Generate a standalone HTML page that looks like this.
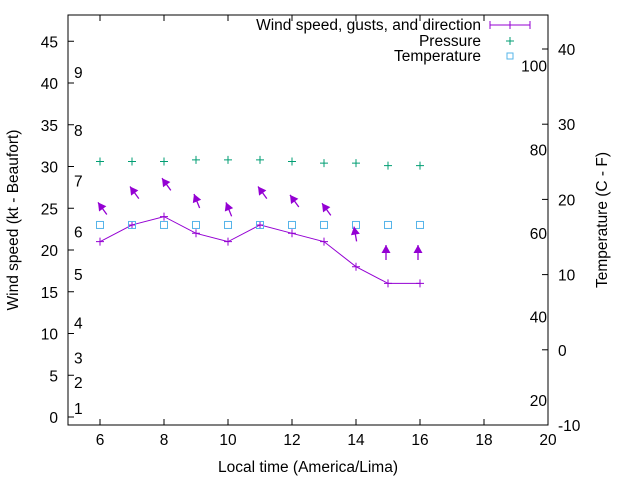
<!DOCTYPE html>
<html><head><meta charset="utf-8"><style>
body{margin:0;background:#fff}
svg{display:block;font-family:"Liberation Sans",sans-serif;font-size:15.5px}
</style></head><body>
<svg id="chart" width="640" height="480" viewBox="0 0 640 480">
<g id="axes"></g>
<g id="marks"></g>
<g id="legend">
<text x="481" y="30" text-anchor="end">Wind speed, gusts, and direction</text>
<line x1="490" y1="25" x2="530" y2="25" stroke="#9400d3"/>
<line x1="490" y1="21" x2="490" y2="29" stroke="#9400d3"/>
<line x1="530" y1="21" x2="530" y2="29" stroke="#9400d3"/>
<path d="M506 25h8M510 21v8" stroke="#9400d3"/>
<text x="481" y="46" text-anchor="end">Pressure</text>
<path d="M506 41h8M510 37v8" stroke="#009e73"/>
<text x="481" y="61" text-anchor="end">Temperature</text>
<rect x="507" y="53" width="6" height="6" fill="none" stroke="#56b4e9"/>
</g>
</svg>
<script>
const hours=[6,7,8,9,10,11,12,13,14,15,16];
const windSpeed=[21,23,24,22,21,23,22,21,18,16,16];
const gusts=[25.7,27.6,28.6,26.7,25.7,27.6,26.6,25.6,22.8,20.6,20.6];
const direction=[324,324,324,338,338,324,324,324,350,0,0];
const pressure=[30.6,30.6,30.6,30.8,30.8,30.8,30.6,30.4,30.4,30.1,30.1];
const temperature=[16.6,16.6,16.6,16.6,16.6,16.6,16.6,16.6,16.6,16.6,16.6];
const xTicks=[6,8,10,12,14,16,18,20];
const yTicks=[0,5,10,15,20,25,30,35,40,45];
const y2Ticks=[-10,0,10,20,30,40];
const beaufortLabels=["1","2","3","4","5","6","7","8","9"];
const beaufortValues=[1.1,4.2,7.1,11.3,17.1,22.2,28.3,34.4,41.3];
const fLabels=["20","40","60","80","100"];
const fValues=[20,40,60,80,100];
const L=68,R=548,T=15,B=425;
const X=v=>100+(v-6)*32;
const Y=v=>417-v*8.35;
const Y2=v=>425-(v+10)*7.52;
const NS="http://www.w3.org/2000/svg";
function mk(p,tag,at){const e=document.createElementNS(NS,tag);for(const k in at)e.setAttribute(k,at[k]);p.appendChild(e);return e;}
const ax=document.getElementById('axes'),mg=document.getElementById('marks');
let fr=mk(ax,'rect',{x:L,y:T,width:R-L,height:B-T,fill:'none',stroke:'#000'});


xTicks.forEach(v=>{const x=X(v);
 let t=mk(ax,'path',{d:`M${x} ${B}v-6M${x} ${T}v6`,stroke:'#000'});
 
 
 let l=mk(ax,'text',{x:x,y:B+20,'text-anchor':'middle'});l.textContent=v;
 
 });
yTicks.forEach(v=>{const y=Y(v);
 let t=mk(ax,'path',{d:`M${L} ${y}h6`,stroke:'#000'});
 
 
 let l=mk(ax,'text',{x:L-10,y:y+6,'text-anchor':'end'});l.textContent=v;
 
 });
y2Ticks.forEach(v=>{const y=Y2(v);
 let t=mk(ax,'path',{d:`M${R} ${y}h-6`,stroke:'#000'});
 
 
 let l=mk(ax,'text',{x:R+10,y:y+6});l.textContent=v;
 
 });
beaufortLabels.forEach((s,i)=>{let l=mk(ax,'text',{x:74,y:Y(beaufortValues[i])+6});l.textContent=s;
 
 });
fLabels.forEach((s,i)=>{let l=mk(ax,'text',{x:547,y:Y2((fValues[i]-32)*5/9)+6,'text-anchor':'end'});l.textContent=s;
 
 });
let xt=mk(ax,'text',{x:308,y:472,'text-anchor':'middle'});xt.textContent='Local time (America/Lima)';


let yt=mk(ax,'text',{x:18,y:220,'text-anchor':'middle',transform:'rotate(-90 18 220)'});yt.textContent='Wind speed (kt - Beaufort)';


let y2t=mk(ax,'text',{x:607,y:220,'text-anchor':'middle',transform:'rotate(-90 607 220)'});y2t.textContent='Temperature (C - F)';


let ln=mk(mg,'polyline',{points:hours.map((h,i)=>X(h)+','+Y(windSpeed[i])).join(' '),fill:'none',stroke:'#9400d3'});


hours.forEach((h,i)=>{const x=X(h);
 let p=mk(mg,'path',{d:`M${x-4} ${Y(windSpeed[i])}h8M${x} ${Y(windSpeed[i])-4}v8`,stroke:'#9400d3'});
 
 
 let pr=mk(mg,'path',{d:`M${x-4} ${Y(pressure[i])}h8M${x} ${Y(pressure[i])-4}v8`,stroke:'#009e73'});
 
 
 let tq=mk(mg,'rect',{x:x-3.5,y:Y2(temperature[i])-3.5,width:7,height:7,fill:'none',stroke:'#56b4e9'});
 
 
 const a=direction[i]*Math.PI/180,dx=Math.sin(a),dy=-Math.cos(a);
 const hx=x-2,hy=Y(gusts[i]),tx=hx-dx*15,ty=hy-dy*15;
 const px=-dy,py=dx;
 const bx=hx-dx*8,by=hy-dy*8;
 let ar=mk(mg,'g',{});
 
 
 mk(ar,'line',{x1:tx,y1:ty,x2:hx,y2:hy,stroke:'#9400d3','stroke-width':1.3});
 mk(ar,'polygon',{points:`${hx},${hy} ${bx+px*4.5},${by+py*4.5} ${bx-px*4.5},${by-py*4.5}`,fill:'#9400d3'});
});
</script>
</body></html>
